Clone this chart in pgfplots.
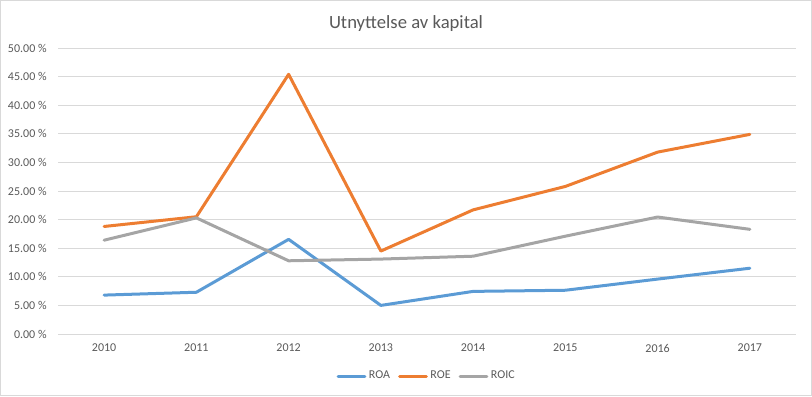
\documentclass[border=0pt]{standalone}
\usepackage{fontspec}
\setmainfont{Carlito}
\usepackage{pgfplots}
\pgfplotsset{compat=1.18}
\definecolor{roa}{HTML}{5B9BD5}
\definecolor{roe}{HTML}{ED7D31}
\definecolor{roic}{HTML}{A5A5A5}
\definecolor{txt}{HTML}{595959}
\definecolor{grd}{HTML}{D9D9D9}
\begin{document}
\begin{tikzpicture}
\path[use as bounding box] (0,0) rectangle (609pt,297pt);
\draw[grd, line width=0.75pt] (0.4pt,0.4pt) rectangle (608.6pt,296.6pt);
\node[txt, font=\fontsize{14}{16}\selectfont] at (304.5pt,279.5pt) {Utnyttelse av kapital};
\begin{axis}[
  at={(43.5pt,46.5pt)}, anchor=south west,
  scale only axis, width=553.5pt, height=214.5pt,
  xmin=-0.5, xmax=7.5, ymin=0, ymax=50,
  xtick={0,...,7}, xticklabels={2010,2011,2012,2013,2014,2015,2016,2017},
  ytick={0,5,...,50},
  yticklabel={\pgfmathprintnumber[fixed,fixed zerofill,precision=2]{\tick}~\%},
  /pgf/number format/assume math mode=true,
  ymajorgrids, grid style={grd, line width=0.75pt},
  axis line style={draw=none},
  major tick length=0pt,
  tick label style={txt, font=\fontsize{9}{11}\selectfont},
  yticklabel style={xshift=-5pt},
  xticklabel style={yshift=-4pt},
  legend style={at={(0.5,-0.147)}, anchor=center, draw=none, fill=none,
    legend columns=3, font=\fontsize{9}{11}\selectfont, text=txt,
    /tikz/every even column/.append style={column sep=4pt}},
  legend image code/.code={\draw[#1] (0pt,0pt) -- (20pt,0pt);},
  every axis plot/.append style={line width=2.25pt, line join=round, line cap=round},
]
\addplot[roa] coordinates {(0,6.8) (1,7.3) (2,16.55) (3,5.0) (4,7.45) (5,7.65) (6,9.6) (7,11.5)};
\addplot[roe] coordinates {(0,18.8) (1,20.5) (2,45.4) (3,14.5) (4,21.7) (5,25.8) (6,31.8) (7,34.9)};
\addplot[roic] coordinates {(0,16.4) (1,20.3) (2,12.8) (3,13.1) (4,13.6) (5,17.1) (6,20.45) (7,18.3)};
\legend{ROA,ROE,ROIC}
\end{axis}
\end{tikzpicture}
\end{document}
